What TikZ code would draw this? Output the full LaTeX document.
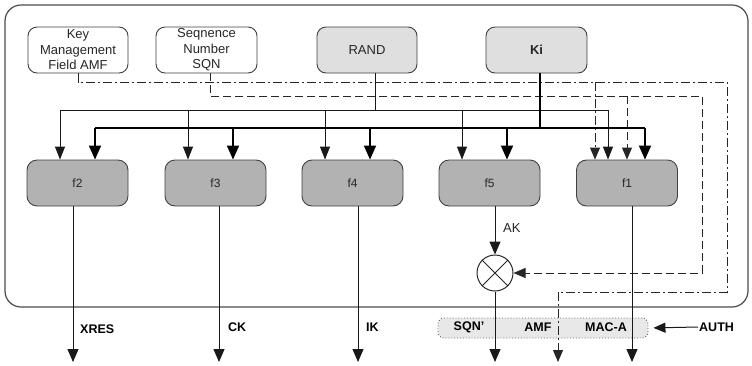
\documentclass[tikz,border=0pt]{standalone}
\usepackage{fontspec}
\setmainfont{Liberation Sans}
\usetikzlibrary{arrows.meta}
\begin{document}
\begin{tikzpicture}[x=1pt,y=-1pt,
  every node/.style={font=\fontsize{13}{15.5}\selectfont, text=black!85},
  topbox/.style={draw=black!75, line width=0.9pt, rounded corners=9pt,
    minimum width=100pt, minimum height=46pt, align=center, inner sep=1pt},
  keybox/.style={topbox, fill=gray!25},
  fbox/.style={draw=black!75, line width=0.9pt, rounded corners=10pt, fill=gray!60,
    minimum width=101pt, minimum height=46pt, font=\fontsize{12}{14}\selectfont},
  lab/.style={font=\fontsize{12.5}{14}\selectfont\bfseries, text=black, inner sep=1pt},
  thinln/.style={draw=black!90, line width=1pt},
  thickln/.style={draw=black, line width=1.9pt},
  thinarr/.style={thinln, -{Triangle[length=13pt,width=10pt]}},
  thickarr/.style={thickln, -{Triangle[length=14pt,width=12pt]}},
  outarr/.style={thinln, -{Triangle[length=13pt,width=11pt]}},
  dashln/.style={draw=black!85, line width=1pt, dash pattern=on 8pt off 4pt},
  dashdotln/.style={draw=black!85, line width=1pt, dash pattern=on 9pt off 3pt on 2pt off 3pt},
  darr/.style={-{Triangle[length=12pt,width=10pt]}}
]
\useasboundingbox (0,0) rectangle (752,365);

% outer frame
\draw[draw=black!70, line width=1.2pt, rounded corners=16pt] (5,5) rectangle (748,307);

% top boxes
\node[topbox] (amf) at (78,50) {Key\\Management\\Field AMF};
\node[topbox, minimum width=101pt] (sqn) at (206.5,50) {Seqnence\\Number\\SQN};
\node[keybox] (rand) at (367,50) {RAND};
\node[keybox, minimum width=101pt] (ki) at (536.5,50) {\bfseries Ki};

% function boxes
\node[fbox] (f2) at (77.5,183) {f2};
\node[fbox] (f3) at (215.5,183) {f3};
\node[fbox] (f4) at (352.5,183) {f4};
\node[fbox] (f5) at (489.5,183) {f5};
\node[fbox] (f1) at (627,183) {f1};

% XOR
\node[draw=black!85, circle, minimum size=36pt, inner sep=0pt, line width=1pt] (xor) at (495,273) {};
\draw[black!85, line width=0.9pt] (xor.north west) -- (xor.south east);
\draw[black!85, line width=0.9pt] (xor.north east) -- (xor.south west);

% AUTH box
\node[draw=black!60, dotted, line width=0.9pt, fill=gray!18, rounded corners=6pt,
  minimum width=210pt, minimum height=20pt] (authbox) at (543,328) {};
\node[lab] (sqnp) at (469,327) {SQN'};
\node[lab] (amft) at (538,327) {AMF};
\node[lab] (maca) at (606,327) {MAC-A};
\node[lab, anchor=west] (authl) at (698,327) {AUTH};
\draw[thinln, -{Triangle[length=12pt,width=10pt]}, shorten >=5pt] (authl.west) -- (authbox.east);

% coordinates
\coordinate (dd1) at (727,82);
\coordinate (dd2) at (727,292);
\coordinate (db) at (595,82);
\coordinate (ds1) at (702,96);
\coordinate (dsb) at (627,96);
\coordinate (o2) at (73,362);
\coordinate (o3) at (219,362);
\coordinate (o4) at (358,362);
\coordinate (o5) at (495,362);
\coordinate (o1) at (632,362);
\coordinate (oa) at (558,362);

% AMF dash-dot
\draw[dashdotln, darr] (amf.south) |- (dd1) -- (dd2) -| (oa);
\draw[dashdotln, darr] (db) -- (db |- f1.north);
% SQN dashed
\draw[dashln, darr] ([xshift=3.5pt]sqn.south) |- (ds1) |- (xor.east);
\draw[dashln, darr] (dsb) -- (dsb |- f1.north);

% RAND bus
\coordinate (rb) at (375,110);
\coordinate (rbl) at (60,110);
\coordinate (rbr) at (608,110);
\draw[thinln] ([xshift=8pt]rand.south) -- (rb);
\draw[thinln] (rbl) -- (rbr);
\foreach \x/\f in {60/f2,188/f3,325/f4,462/f5,608/f1}{
  \coordinate (t) at (\x,110);
  \draw[thinarr] (t) -- (t |- \f.north);
}

% Ki bus
\coordinate (kb) at (540,128);
\coordinate (kbl) at (95,128);
\coordinate (kbr) at (645,128);
\draw[thickln] ([xshift=3.5pt]ki.south) -- (kb);
\draw[thickln] (kbl) -- (kbr);
\foreach \x/\f in {95/f2,233/f3,370/f4,507/f5,645/f1}{
  \coordinate (t) at (\x,128);
  \draw[thickarr] (t) -- (t |- \f.north);
}

% outputs
\draw[outarr] (o2 |- f2.south) -- (o2);
\draw[outarr] (o3 |- f3.south) -- (o3);
\draw[outarr] (o4 |- f4.south) -- (o4);
\draw[outarr] (o1 |- f1.south) -- (o1);
\draw[outarr] (o5 |- f5.south) -- (xor.north);
\draw[outarr] (xor.south) -- (o5);

% labels
\node[anchor=west, inner sep=1pt] (ak) at (502,228) {AK};
\node[lab, anchor=west] (xres) at (79,329) {XRES};
\node[lab, anchor=west] (ck) at (227,327) {CK};
\node[lab, anchor=west] (ik) at (365,327) {IK};
\end{tikzpicture}
\end{document}
